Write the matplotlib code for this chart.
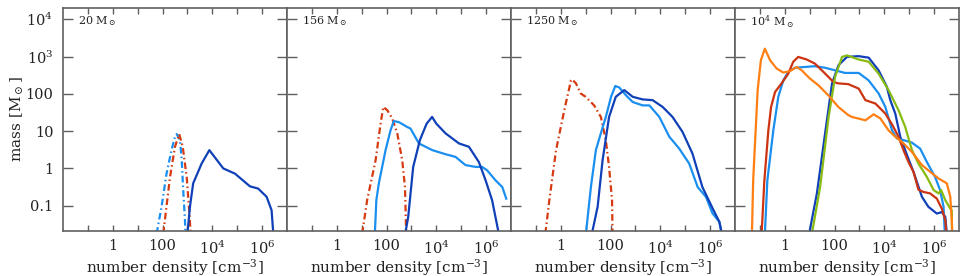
import numpy as np
import matplotlib
matplotlib.use("Agg")
import matplotlib.pyplot as plt
from matplotlib.ticker import FixedLocator, NullLocator, NullFormatter

# values stored as log10(number density), log10(mass)
# panel 1: 20 Msun
p1_dark_x = [3.0, 3.10, 3.23, 3.57, 3.88, 4.44, 4.91, 5.51, 5.84, 6.18, 6.38, 6.45]
p1_dark_y = [-1.75, -1.03, -0.40, 0.13, 0.49, 0.0, -0.14, -0.48, -0.54, -0.76, -1.12, -1.75]
p1_lbdd_x = [1.76, 1.96, 2.16, 2.36, 2.5, 2.57, 2.7, 2.77, 2.83, 2.9, 2.92]
p1_lbdd_y = [-1.75, -1.03, -0.14, 0.49, 0.85, 0.92, 0.76, 0.22, -0.58, -1.39, -1.75]
p1_rdd_x = [2.03, 2.14, 2.30, 2.5, 2.67, 2.81, 2.97, 3.07, 3.13]
p1_rdd_y = [-1.75, -1.12, -0.23, 0.58, 0.92, 0.58, -0.23, -1.12, -1.75]

# panel 2: 156 Msun
p2_rdd_x = [1.02, 1.22, 1.56, 1.76, 1.87, 2.03, 2.23, 2.43, 2.63, 2.74, 2.79]
p2_rdd_y = [-1.75, -0.85, 0.22, 1.20, 1.65, 1.56, 1.34, 0.94, 0.22, -0.5, -1.75]
p2_light_x = [1.53, 1.59, 1.69, 1.96, 2.16, 2.29, 2.50, 2.83, 2.96, 3.30, 3.84, 4.37,
              4.77, 5.17, 5.58, 5.84, 6.04, 6.38, 6.65, 6.81]
p2_light_y = [-1.75, -0.85, -0.40, 0.49, 1.02, 1.27, 1.24, 1.11, 1.07, 0.67, 0.49, 0.38,
              0.31, 0.09, 0.04, 0.04, -0.05, -0.32, -0.50, -0.81]
p2_dark_x = [2.75, 2.87, 3.07, 3.34, 3.61, 3.83, 4.0, 4.37, 4.91, 5.31, 5.71, 5.98, 6.24, 6.51]
p2_dark_y = [-1.75, -1.30, 0.04, 0.76, 1.20, 1.38, 1.20, 0.94, 0.67, 0.58, 0.17, -0.32, -0.85, -1.75]

# panel 3: 1250 Msun
p3_rdd_x = [-0.62, -0.46, -0.19, 0.14, 0.41, 0.45, 0.61, 0.80, 1.0, 1.34, 1.61, 1.81, 1.94, 2.06, 2.08]
p3_rdd_y = [-1.75, -0.85, 0.49, 1.56, 2.36, 2.39, 2.28, 2.01, 1.92, 1.69, 1.38, 0.76, 0.04, -0.85, -1.75]
p3_light_x = [1.01, 1.21, 1.41, 1.61, 1.81, 2.02, 2.19, 2.35, 2.62, 2.89, 3.29, 3.56, 3.96,
              4.36, 4.76, 5.16, 5.50, 5.83, 6.10, 6.37, 6.47]
p3_light_y = [-1.75, -0.50, 0.49, 0.94, 1.38, 1.92, 2.21, 2.17, 1.96, 1.78, 1.69, 1.69, 1.38,
              0.85, 0.53, 0.13, -0.50, -0.76, -1.21, -1.43, -1.75]
p3_dark_x = [1.25, 1.48, 1.68, 1.94, 2.21, 2.55, 2.89, 3.29, 3.69, 4.09, 4.49, 4.89, 5.29,
             5.69, 6.10, 6.37, 6.47]
p3_dark_y = [-1.75, -1.03, 0.22, 1.38, 1.92, 2.10, 1.92, 1.85, 1.83, 1.65, 1.38, 0.98, 0.40,
             -0.50, -1.07, -1.43, -1.75]

# panel 4: 1e4 Msun
p4_dark_x = [0.98, 1.29, 1.62, 1.90, 2.16, 2.50, 2.97, 3.37, 3.77, 4.10, 4.24, 4.44, 4.64,
             4.91, 5.17, 5.51, 5.77, 6.11, 6.31, 6.45, 6.51]
p4_dark_y = [-1.75, -0.67, 0.94, 2.28, 2.77, 2.99, 3.01, 2.97, 2.63, 2.19, 1.83, 1.47, 0.85,
             0.36, -0.09, -0.76, -1.03, -1.21, -1.17, -1.30, -1.75]
p4_light_x = [-0.80, -0.70, -0.46, -0.26, -0.06, 0.14, 0.41, 0.81, 1.21, 1.61, 2.02, 2.42, 2.97,
              3.37, 3.77, 4.04, 4.31, 4.51, 4.77, 5.11, 5.44, 5.71, 6.04, 6.24, 6.38, 6.43]
p4_light_y = [-1.75, -0.32, 1.02, 1.92, 2.36, 2.59, 2.70, 2.72, 2.74, 2.70, 2.63, 2.56, 2.56,
              2.36, 2.01, 1.65, 1.02, 0.80, 0.76, 0.69, 0.53, 0.17, -0.23, -0.58, -1.03, -1.75]
p4_red_x = [-0.93, -0.82, -0.66, -0.55, -0.39, -0.13, 0.14, 0.34, 0.54, 0.88, 1.21, 1.55, 1.95,
            2.15, 2.55, 2.97, 3.24, 3.64, 4.04, 4.31, 4.57, 4.77, 4.97, 5.17, 5.37, 5.57, 5.84,
            6.11, 6.31, 6.45, 6.49]
p4_red_y = [-1.75, -0.32, 1.02, 1.65, 2.05, 2.28, 2.54, 2.86, 2.99, 2.92, 2.81, 2.59, 2.32,
            2.28, 2.26, 2.14, 1.83, 1.74, 1.47, 1.18, 0.85, 0.49, 0.17, -0.09, -0.57, -0.63, -0.67,
            -0.81, -1.08, -1.39, -1.75]
p4_orange_x = [-1.32, -1.27, -1.17, -1.09, -0.96, -0.80, -0.59, -0.33, -0.06, 0.21, 0.48, 0.68,
               1.01, 1.35, 1.75, 2.15, 2.55, 2.70, 3.24, 3.57, 3.84, 4.17, 4.44, 4.71, 5.11,
               5.51, 5.84, 6.18, 6.51, 6.65, 6.71, 6.73]
p4_orange_y = [-1.75, -0.32, 1.02, 2.10, 2.90, 3.21, 2.90, 2.68, 2.57, 2.61, 2.72, 2.63,
               2.41, 2.23, 1.96, 1.65, 1.43, 1.38, 1.29, 1.45, 1.34, 1.02, 0.85, 0.71, 0.44,
               0.09, -0.09, -0.27, -0.40, -0.76, -1.39, -1.75]
p4_green_x = [1.09, 1.42, 1.76, 2.02, 2.30, 2.50, 2.97, 3.37, 3.77, 4.17, 4.57, 4.84, 5.11,
              5.37, 5.71, 5.98, 6.18, 6.28, 6.45, 6.65, 6.71, 6.72]
p4_green_y = [-1.75, -0.50, 1.38, 2.45, 2.99, 3.03, 2.92, 2.86, 2.54, 2.10, 1.56, 1.11, 0.49,
              0.13, -0.23, -0.58, -0.67, -0.58, -0.85, -1.08, -1.12, -1.75]

panel_labels = ["20 M$_\\odot$", "156 M$_\\odot$", "1250 M$_\\odot$", "10$^4$ M$_\\odot$"]
xtick_vals = [1, 100, 1e4, 1e6]
xtick_labels = ["1", "100", "10$^4$", "10$^6$"]
ytick_vals = [0.1, 1, 10, 100, 1e3, 1e4]
ytick_labels = ["0.1", "1", "10", "100", "10$^3$", "10$^4$"]

DARK = "#1040b8"
LIGHT = "#1a8ff0"
RED = "#cc3311"
RED_DD = "#d63a10"
ORANGE = "#ff7f12"
GREEN = "#88bb12"
GRAY = "#606060"
DASHDOT = (0, (3.0, 1.4, 0.7, 1.4))

plt.rcParams["font.family"] = "DejaVu Serif"
plt.rcParams["mathtext.fontset"] = "dejavuserif"

panels = [
    [(p1_lbdd_x, p1_lbdd_y, LIGHT, DASHDOT), (p1_rdd_x, p1_rdd_y, RED_DD, DASHDOT),
     (p1_dark_x, p1_dark_y, DARK, "-")],
    [(p2_rdd_x, p2_rdd_y, RED_DD, DASHDOT), (p2_light_x, p2_light_y, LIGHT, "-"),
     (p2_dark_x, p2_dark_y, DARK, "-")],
    [(p3_rdd_x, p3_rdd_y, RED_DD, DASHDOT), (p3_light_x, p3_light_y, LIGHT, "-"),
     (p3_dark_x, p3_dark_y, DARK, "-")],
    [(p4_dark_x, p4_dark_y, DARK, "-"), (p4_light_x, p4_light_y, LIGHT, "-"),
     (p4_red_x, p4_red_y, RED, "-"), (p4_green_x, p4_green_y, GREEN, "-"),
     (p4_orange_x, p4_orange_y, ORANGE, "-")],
]

fig = plt.figure(figsize=(9.69, 2.76), dpi=100)
left, width = 63 / 969, 224 / 969
bottom, height = 1 - 231 / 276, 223 / 276

for i, curves in enumerate(panels):
    ax = fig.add_axes([left + i * width, bottom, width, height])
    for xs, ys, col, ls in curves:
        ax.plot(np.power(10.0, xs), np.power(10.0, ys), color=col, lw=1.6, linestyle=ls)
    ax.set_xscale("log")
    ax.set_yscale("log")
    ax.set_xlim(1e-2, 1e7)
    ax.set_ylim(0.021, 2e4)

    ax.xaxis.set_major_locator(FixedLocator(xtick_vals))
    ax.set_xticklabels(xtick_labels)
    ax.xaxis.set_minor_locator(FixedLocator([10.0 ** k for k in (-1, 1, 3, 5)]))
    ax.xaxis.set_minor_formatter(NullFormatter())
    ax.yaxis.set_major_locator(FixedLocator(ytick_vals))
    ax.yaxis.set_minor_locator(NullLocator())
    if i == 0:
        ax.set_yticklabels(ytick_labels)
        ax.set_ylabel("mass [M$_\\odot$]", fontsize=11, color="#222222")
        ax.yaxis.set_label_coords(-0.165, 0.5)
    else:
        ax.set_yticklabels([])

    ax.tick_params(which="both", direction="in", top=True, right=True, color=GRAY,
                   width=1.0, labelsize=10.5, labelcolor="#222222")
    ax.tick_params(axis="x", which="both", length=4.5, pad=6)
    ax.tick_params(axis="y", which="both", length=7, pad=7)
    for s in ax.spines.values():
        s.set_color(GRAY)
        s.set_linewidth(1.2)

    ax.set_xlabel("number density [cm$^{-3}$]", fontsize=11, color="#222222", labelpad=0)
    ax.text(0.065, 0.94, panel_labels[i], transform=ax.transAxes, fontsize=8,
            color="#222222", va="center", ha="left")

fig.savefig("out.png", dpi=100)
